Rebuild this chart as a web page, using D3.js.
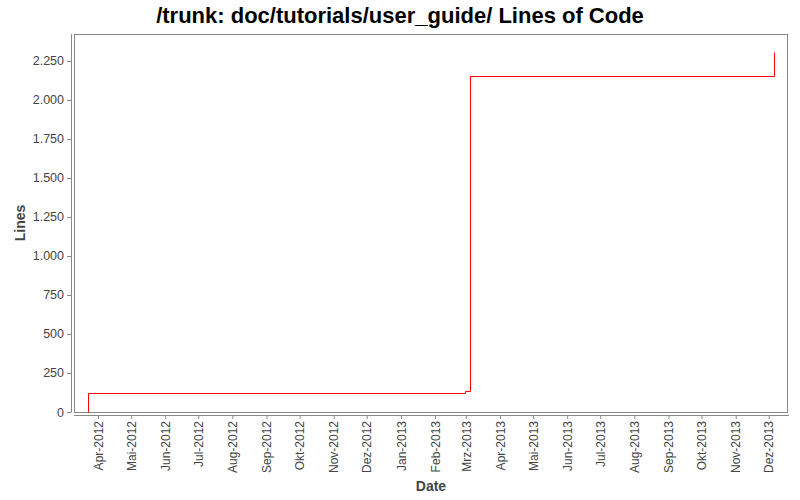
<!DOCTYPE html>
<html><head><meta charset="utf-8">
<script src="https://cdn.jsdelivr.net/npm/d3@7"></script>
<style>body{margin:0;background:#fff}</style>
</head><body>
<svg id="c" width="800" height="500"></svg>
<script>
const title = "/trunk: doc/tutorials/user_guide/ Lines of Code";
const dates = ["2012-03-23", "2012-03-23", "2013-02-28", "2013-03-05", "2013-12-06"];
const lineCounts = [0, 121, 135, 2155, 2308];
const xDomain = ["2012-03-10T04:00:00Z", "2013-12-18T12:00:00Z"];
const yDomain = [0, 2423];
const yTicks = [0, 250, 500, 750, 1000, 1250, 1500, 1750, 2000, 2250];
const monthNames = ["Jan","Feb","Mrz","Apr","Mai","Jun","Jul","Aug","Sep","Okt","Nov","Dez"];
const xTickStart = "2012-04-01", xTickEnd = "2013-12-01";

const svg = d3.select("#c");
const L = 74, R = 788, T = 34, B = 412;
const x = d3.scaleUtc().domain(xDomain.map(d => new Date(d))).range([L, R]);
const y = d3.scaleLinear().domain(yDomain).range([B, T]);

svg.append("text").attr("x", 400).attr("y", 23).attr("text-anchor", "middle")
  .attr("font-family", "Liberation Sans, Arial, sans-serif").attr("font-weight", "bold")
  .attr("font-size", 22).attr("fill", "#000").text(title);

// plot frame
svg.append("rect").attr("x", L + 0.5).attr("y", T + 0.5).attr("width", R - L - 1).attr("height", B - T)
  .attr("fill", "#fff").attr("stroke", "#888").attr("stroke-width", 1);

// y axis
const fmt = d3.formatLocale({decimal: ",", thousands: ".", grouping: [3], currency: ["", "€"]}).format(",d");
const yAxis = svg.append("g").attr("transform", `translate(${L - 3},0)`)
  .call(d3.axisLeft(y).tickValues(yTicks).tickFormat(fmt).tickSize(4).tickPadding(3));
yAxis.select(".domain").attr("stroke", "#888").attr("d", `M0.5,${T}V${B + 0.5}`);
yAxis.selectAll(".tick line").attr("stroke", "#888");
yAxis.selectAll(".tick text").attr("font-family", "Liberation Sans, Arial, sans-serif")
  .attr("font-size", 12.5).attr("fill", "#444");

// x axis
const months = d3.utcMonth.range(new Date(xTickStart), d3.utcMonth.offset(new Date(xTickEnd), 1));
const xAxis = svg.append("g").attr("transform", `translate(0,${B + 3})`)
  .call(d3.axisBottom(x).tickValues(months)
    .tickFormat(d => monthNames[d.getUTCMonth()] + "-" + d.getUTCFullYear()).tickSize(4).tickPadding(3));
xAxis.select(".domain").attr("stroke", "#888").attr("d", `M${L},0.5H${R + 1}`);
xAxis.selectAll(".tick line").attr("stroke", "#888");
xAxis.selectAll(".tick text").attr("font-family", "Liberation Sans, Arial, sans-serif")
  .attr("font-size", 12).attr("fill", "#444")
  .attr("transform", "rotate(-90)").attr("text-anchor", "end")
  .attr("x", -6).attr("y", 0).attr("dy", "0.35em");

// axis titles
svg.append("text").attr("x", 431).attr("y", 491).attr("text-anchor", "middle")
  .attr("font-family", "Liberation Sans, Arial, sans-serif").attr("font-weight", "bold")
  .attr("font-size", 14).attr("fill", "#444").text("Date");
svg.append("text").attr("transform", "translate(25,223) rotate(-90)").attr("text-anchor", "middle")
  .attr("font-family", "Liberation Sans, Arial, sans-serif").attr("font-weight", "bold")
  .attr("font-size", 14).attr("fill", "#444").text("Lines");

// line
const data = dates.map((d, i) => ({t: new Date(d), v: lineCounts[i]}));
svg.append("path").datum(data)
  .attr("fill", "none").attr("stroke", "#ff0000").attr("stroke-width", 1)
  .attr("d", d3.line().x(d => Math.round(x(d.t)) + 0.5).y(d => Math.round(y(d.v)) + 0.5).curve(d3.curveStepAfter));
</script>
</body></html>
